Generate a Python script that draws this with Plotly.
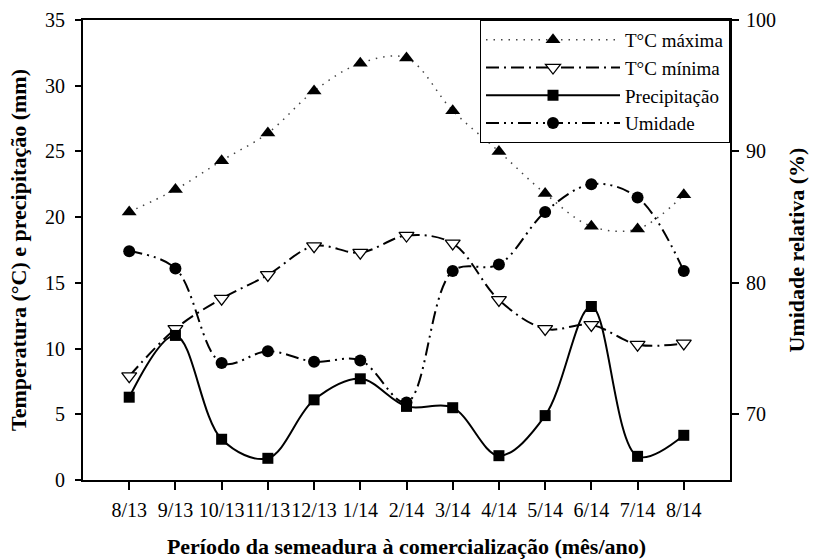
import plotly.graph_objects as go

months = ["8/13", "9/13", "10/13", "11/13", "12/13", "1/14", "2/14",
          "3/14", "4/14", "5/14", "6/14", "7/14", "8/14"]
t_max = [20.4, 22.1, 24.3, 26.4, 29.6, 31.7, 32.1, 28.1, 25.0, 21.8, 19.3, 19.1, 21.7]
t_min = [7.9, 11.5, 13.8, 15.6, 17.8, 17.3, 18.6, 18.0, 13.7, 11.5, 11.8, 10.3, 10.4]
precip = [6.3, 11.0, 3.1, 1.65, 6.1, 7.7, 5.6, 5.5, 1.85, 4.9, 13.2, 1.8, 3.4]
umidade = [82.4, 81.1, 73.9, 74.8, 74.0, 74.1, 70.9, 80.9, 81.4, 85.4, 87.5, 86.5, 80.9]

x = list(range(len(months)))
FONT = "Liberation Serif"
SM = 1.0

fig = go.Figure()
fig.add_trace(go.Scatter(
    x=x, y=t_max, name="T°C máxima", mode="lines+markers",
    line=dict(color="#444", width=1.5, dash="1.5px,6px", shape="spline", smoothing=SM),
    marker=dict(symbol="triangle-up", size=13, color="black", line=dict(width=0))))
fig.add_trace(go.Scatter(
    x=x, y=t_min, name="T°C mínima", mode="lines+markers",
    line=dict(color="black", width=2, dash="13px,5px,2px,5px", shape="spline", smoothing=SM),
    marker=dict(symbol="triangle-down", size=13, color="white", line=dict(color="black", width=1.3))))
fig.add_trace(go.Scatter(
    x=x, y=precip, name="Precipitação", mode="lines+markers",
    line=dict(color="black", width=2, shape="spline", smoothing=SM),
    marker=dict(symbol="square", size=11, color="black", line=dict(width=0))))
fig.add_trace(go.Scatter(
    x=x, y=umidade, name="Umidade", mode="lines+markers", yaxis="y2",
    line=dict(color="black", width=2, dash="13px,5px,2px,5px,2px,5px", shape="spline", smoothing=SM),
    marker=dict(symbol="circle", size=12, color="black", line=dict(width=0))))

axis_common = dict(showgrid=False, zeroline=False, showline=True, linecolor="black",
                   linewidth=2, ticks="outside", tickcolor="black", tickwidth=2,
                   automargin=False,
                   tickfont=dict(family=FONT, size=20, color="black"))

fig.update_layout(
    width=818, height=559,
    margin=dict(l=83, r=88, t=20, b=79),
    paper_bgcolor="white", plot_bgcolor="white",
    font=dict(family=FONT, color="black"),
    xaxis=dict(**axis_common, range=[-1, 13], tickmode="array", tickvals=x,
               ticktext=months, ticklen=8, mirror=True, ticklabelstandoff=3,
               tickangle=0,
               title=dict(text="<b>Período da semeadura à comercialização (mês/ano)</b>",
                          font=dict(family=FONT, size=22), standoff=24)),
    yaxis=dict(**axis_common, range=[0, 35], tickvals=[0, 5, 10, 15, 20, 25, 30, 35],
               ticklen=6, ticklabelstandoff=6,
               title=dict(text="<b>Temperatura (°C) e precipitação (mm)</b>",
                          font=dict(family=FONT, size=22), standoff=12)),
    yaxis2=dict(**axis_common, range=[65, 100], tickvals=[70, 80, 90, 100],
                ticklen=7, overlaying="y", side="right", ticklabelstandoff=3,
                title=dict(text="<b>Umidade relativa (%)</b>",
                           font=dict(family=FONT, size=22), standoff=14)),
    legend=dict(x=1, xanchor="right", y=1, yanchor="top",
                bgcolor="white", bordercolor="black", borderwidth=1,
                font=dict(family=FONT, size=19), itemwidth=134,
                tracegroupgap=0),
    showlegend=True,
)

fig.write_html("out.html")
